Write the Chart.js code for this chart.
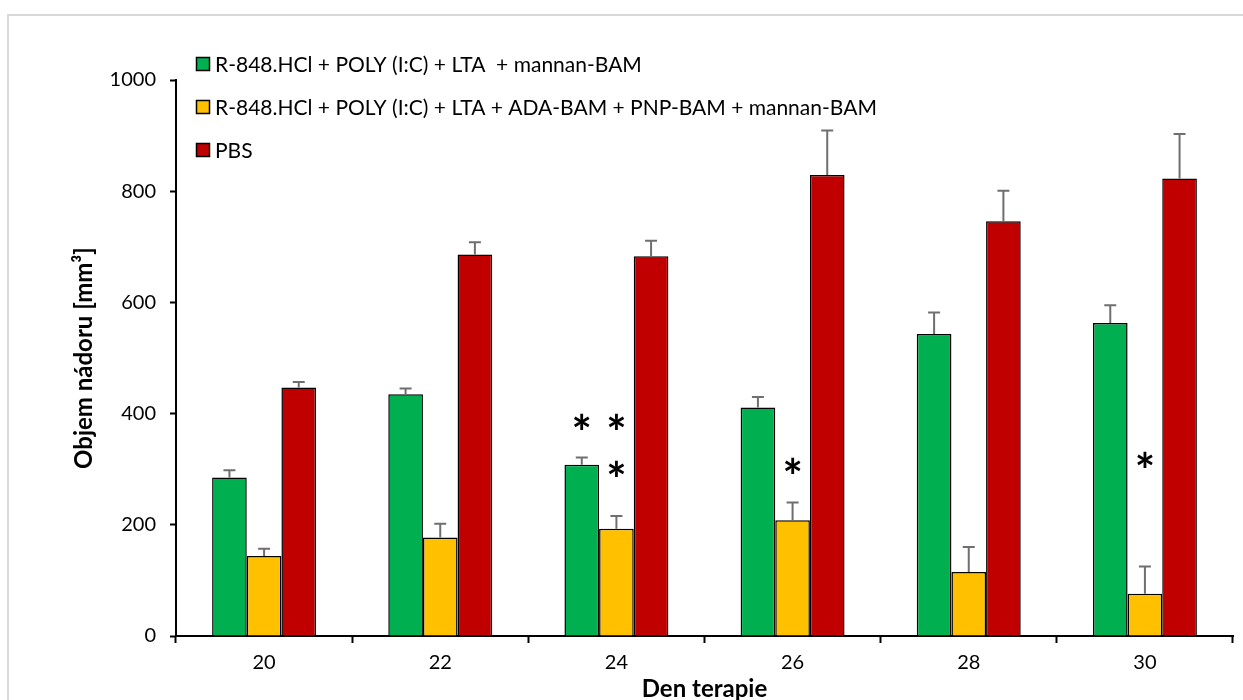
<!DOCTYPE html>
<html>
<head>
<meta charset="utf-8">
<script src="https://cdn.jsdelivr.net/npm/chart.js@4"></script>
<style>
  html, body { margin: 0; padding: 0; background: #fff; }
  #wrap { position: relative; width: 1243px; height: 700px; }
</style>
</head>
<body>
<div id="wrap"><canvas id="tumorChart" width="1243" height="700"></canvas></div>
<script>
// data
const days = ['20', '22', '24', '26', '28', '30'];
const seriesNames = [
    'R-848.HCl + POLY (I:C) + LTA  + mannan-BAM',
    'R-848.HCl + POLY (I:C) + LTA + ADA-BAM + PNP-BAM + mannan-BAM',
    'PBS'
];
const greenValues = [285, 435, 308, 411, 543, 563];
const yellowValues = [144, 177, 193, 208, 115, 76];
const redValues = [447, 686, 683, 829, 746, 823];
const greenErrors = [13, 10, 13, 19, 39, 32];
const yellowErrors = [13, 25, 23, 32, 45, 49];
const redErrors = [10, 22, 28, 80, 55, 80];
const yTicks = [0, 200, 400, 600, 800, 1000];
// significance marks: [day index, series index, y value]
const asterisks = [[2, 0, 385], [2, 1, 385], [2, 1, 302], [3, 1, 307], [5, 1, 317]];

const colors = ['#00b050', '#ffc000', '#c00000'];
const FONT = 'Lato, "Open Sans", sans-serif';

const frame = {
    id: 'frame',
    beforeDraw(chart) {
        const ctx = chart.ctx;
        ctx.save();
        ctx.strokeStyle = '#d9d9d9';
        ctx.lineWidth = 2;
        ctx.strokeRect(8, 15, 1300, 800);
        ctx.restore();
    }
};

const errorBars = {
    id: 'errorBars',
    afterDatasetsDraw(chart) {
        const ctx = chart.ctx;
        const yScale = chart.scales.y;
        ctx.save();
        ctx.strokeStyle = '#6f6f6f';
        ctx.lineWidth = 2;
        chart.data.datasets.forEach((ds, i) => {
            chart.getDatasetMeta(i).data.forEach((bar, j) => {
                const top = yScale.getPixelForValue(ds.data[j] + ds.errors[j]);
                ctx.beginPath();
                ctx.moveTo(bar.x, bar.y);
                ctx.lineTo(bar.x, top);
                ctx.moveTo(bar.x - 6, top);
                ctx.lineTo(bar.x + 6, top);
                ctx.stroke();
            });
        });
        // asterisks
        ctx.fillStyle = '#000';
        ctx.font = 'bold 48px ' + FONT;
        ctx.textAlign = 'center';
        ctx.textBaseline = 'middle';
        asterisks.forEach(([d, s, v]) => {
            const bar = chart.getDatasetMeta(s).data[d];
            ctx.fillText('*', bar.x, yScale.getPixelForValue(v) + 13);
        });
        ctx.restore();
    }
};

const legendBoxes = {
    id: 'legendBoxes',
    afterDraw(chart) {
        const ctx = chart.ctx;
        ctx.save();
        ctx.font = '21px ' + FONT;
        ctx.textBaseline = 'middle';
        ctx.textAlign = 'left';
        chart.data.datasets.forEach((ds, i) => {
            const cy = 64 + i * 43;
            ctx.fillStyle = ds.backgroundColor;
            ctx.fillRect(196.5, cy - 6.5, 13, 13);
            ctx.strokeStyle = '#000';
            ctx.lineWidth = 1.5;
            ctx.strokeRect(196.5, cy - 6.5, 13, 13);
            ctx.fillStyle = '#000';
            ctx.fillText(ds.label, 215, cy + 1);
        });
        ctx.restore();
    }
};

new Chart(document.getElementById('tumorChart').getContext('2d'), {
    type: 'bar',
    data: {
        labels: days,
        datasets: [
            { label: seriesNames[0], data: greenValues, errors: greenErrors, backgroundColor: colors[0] },
            { label: seriesNames[1], data: yellowValues, errors: yellowErrors, backgroundColor: colors[1] },
            { label: seriesNames[2], data: redValues, errors: redErrors, backgroundColor: colors[2] }
        ]
    },
    options: {
        responsive: false,
        animation: false,
        layout: { padding: { left: 0, top: 80, right: 10, bottom: 0 } },
        datasets: {
            bar: { borderColor: '#000', borderWidth: 1.5, categoryPercentage: 0.59, barPercentage: 1 }
        },
        plugins: { legend: { display: false }, tooltip: { enabled: false } },
        scales: {
            x: {
                afterFit: s => { s.height = 64; },
                border: { color: '#000', width: 2 },
                grid: { offset: true, drawOnChartArea: false, drawTicks: true, tickLength: 7, tickColor: '#000', tickWidth: 2 },
                ticks: { color: '#000', font: { family: FONT, size: 20 }, padding: 8 },
                title: { display: true, text: 'Den terapie', color: '#000', font: { family: FONT, size: 24, weight: 'bold' }, padding: { top: 0, bottom: -4 } }
            },
            y: {
                min: 0,
                max: 1000,
                afterFit: s => { s.width = 176; },
                afterBuildTicks: s => { s.ticks = yTicks.map(v => ({ value: v })); },
                border: { color: '#000', width: 2 },
                grid: { drawOnChartArea: false, drawTicks: true, tickLength: 6, tickColor: '#000', tickWidth: 2 },
                ticks: { color: '#000', font: { family: FONT, size: 20 }, padding: 14, callback: v => String(v) },
                title: { display: true, text: 'Objem nádoru [mm³]', color: '#000', font: { family: FONT, size: 24, weight: 'bold' }, padding: { top: 70, bottom: 0 } }
            }
        }
    },
    plugins: [frame, errorBars, legendBoxes]
});
</script>
</body>
</html>
